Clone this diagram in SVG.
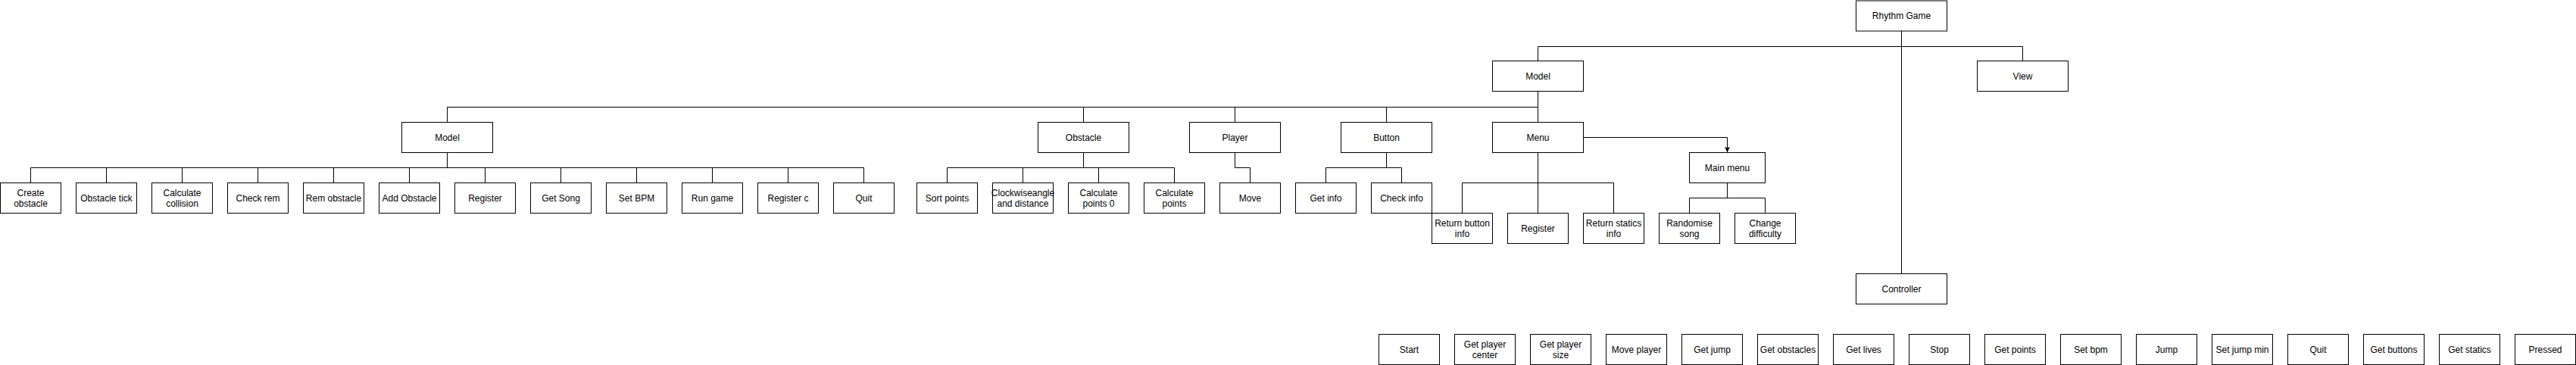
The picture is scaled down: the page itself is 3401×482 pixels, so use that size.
<svg xmlns="http://www.w3.org/2000/svg" width="3401" height="482" viewBox="0 0 3401 482">
<style>
.box{fill:#ffffff;stroke:#000000;stroke-width:1}
.lbl{font-family:"Liberation Sans",Arial,Helvetica,sans-serif;font-size:12px;fill:#000000;text-anchor:middle;dominant-baseline:central}
.edge{fill:none;stroke:#000000;stroke-width:1}
</style>
<defs>
<marker id="arrow" markerUnits="userSpaceOnUse" markerWidth="8" markerHeight="8" viewBox="0 0 8 8" refX="8" refY="4" orient="auto">
<path d="M0,0.5 L8,4 L0,7.5 L2,4 Z" fill="#000000" stroke="none"/>
</marker>
</defs>
<rect width="3401" height="482" fill="#ffffff"/>
<g id="connectors">
<path class="edge" d="M2510.5 41 V61.5"/>
<path class="edge" d="M2030.5 80.5 V61.5 H2670.5 V80.5"/>
<path class="edge" d="M2510.5 61.5 V361.5"/>
<path class="edge" d="M2030.5 120.5 V141.5"/>
<path class="edge" d="M590.5 141.5 H2030.5"/>
<path class="edge" d="M590.5 141.5 V161.5 M1430.5 141.5 V161.5 M1630.5 141.5 V161.5 M1830.5 141.5 V161.5 M2030.5 141.5 V161.5"/>
<path class="edge" d="M590.5 201.5 V221.5 M40.5 221.5 H1140.5"/>
<path class="edge" d="M40.5 221.5 V241.5 M140.5 221.5 V241.5 M240.5 221.5 V241.5 M340.5 221.5 V241.5 M440.5 221.5 V241.5 M540.5 221.5 V241.5 M640.5 221.5 V241.5 M740.5 221.5 V241.5 M840.5 221.5 V241.5 M940.5 221.5 V241.5 M1040.5 221.5 V241.5 M1140.5 221.5 V241.5"/>
<path class="edge" d="M1430.5 201.5 V221.5 M1250.5 221.5 H1550.5 M1250.5 221.5 V241.5 M1350.5 221.5 V241.5 M1450.5 221.5 V241.5 M1550.5 221.5 V241.5"/>
<path class="edge" d="M1630.5 201.5 V221.5 H1650.5 V241.5"/>
<path class="edge" d="M1830.5 201.5 V221.5 M1750.5 221.5 H1850.5 M1750.5 221.5 V241.5 M1850.5 221.5 V241.5"/>
<path class="edge" d="M2030.5 201.5 V241.5 M1930.5 241.5 H2130.5 M1930.5 241.5 V281.5 M2030.5 241.5 V281.5 M2130.5 241.5 V281.5"/>
<path class="edge" d="M2090.5 181.5 H2280.5 V201.5" marker-end="url(#arrow)"/>
<path class="edge" d="M2280.5 241.5 V261.5 M2230.5 261.5 H2330.5 M2230.5 261.5 V281.5 M2330.5 261.5 V281.5"/>
</g>
<g id="rhythm-game"><rect class="box" x="2450.5" y="1" width="120" height="40"/><text class="lbl" x="2510.5" y="21">Rhythm Game</text></g>
<g id="model-top"><rect class="box" x="1970.5" y="80.5" width="120" height="40"/><text class="lbl" x="2030.5" y="101">Model</text></g>
<g id="view"><rect class="box" x="2610.5" y="80.5" width="120" height="40"/><text class="lbl" x="2670.5" y="101">View</text></g>
<g id="controller"><rect class="box" x="2450.5" y="361.5" width="120" height="40"/><text class="lbl" x="2510.5" y="382">Controller</text></g>
<g id="model"><rect class="box" x="530.5" y="161.5" width="120" height="40"/><text class="lbl" x="590.5" y="182">Model</text></g>
<g id="obstacle"><rect class="box" x="1370.5" y="161.5" width="120" height="40"/><text class="lbl" x="1430.5" y="182">Obstacle</text></g>
<g id="player"><rect class="box" x="1570.5" y="161.5" width="120" height="40"/><text class="lbl" x="1630.5" y="182">Player</text></g>
<g id="button"><rect class="box" x="1770.5" y="161.5" width="120" height="40"/><text class="lbl" x="1830.5" y="182">Button</text></g>
<g id="menu"><rect class="box" x="1970.5" y="161.5" width="120" height="40"/><text class="lbl" x="2030.5" y="182">Menu</text></g>
<g id="create-obstacle"><rect class="box" x="0.5" y="241.5" width="80" height="40"/><text class="lbl" x="40.5" y="255">Create</text><text class="lbl" x="40.5" y="269">obstacle</text></g>
<g id="obstacle-tick"><rect class="box" x="100.5" y="241.5" width="80" height="40"/><text class="lbl" x="140.5" y="262">Obstacle tick</text></g>
<g id="calculate-collision"><rect class="box" x="200.5" y="241.5" width="80" height="40"/><text class="lbl" x="240.5" y="255">Calculate</text><text class="lbl" x="240.5" y="269">collision</text></g>
<g id="check-rem"><rect class="box" x="300.5" y="241.5" width="80" height="40"/><text class="lbl" x="340.5" y="262">Check rem</text></g>
<g id="rem-obstacle"><rect class="box" x="400.5" y="241.5" width="80" height="40"/><text class="lbl" x="440.5" y="262">Rem obstacle</text></g>
<g id="add-obstacle"><rect class="box" x="500.5" y="241.5" width="80" height="40"/><text class="lbl" x="540.5" y="262">Add Obstacle</text></g>
<g id="register-model"><rect class="box" x="600.5" y="241.5" width="80" height="40"/><text class="lbl" x="640.5" y="262">Register</text></g>
<g id="get-song"><rect class="box" x="700.5" y="241.5" width="80" height="40"/><text class="lbl" x="740.5" y="262">Get Song</text></g>
<g id="set-bpm-model"><rect class="box" x="800.5" y="241.5" width="80" height="40"/><text class="lbl" x="840.5" y="262">Set BPM</text></g>
<g id="run-game"><rect class="box" x="900.5" y="241.5" width="80" height="40"/><text class="lbl" x="940.5" y="262">Run game</text></g>
<g id="register-c"><rect class="box" x="1000.5" y="241.5" width="80" height="40"/><text class="lbl" x="1040.5" y="262">Register c</text></g>
<g id="quit-model"><rect class="box" x="1100.5" y="241.5" width="80" height="40"/><text class="lbl" x="1140.5" y="262">Quit</text></g>
<g id="sort-points"><rect class="box" x="1210.5" y="241.5" width="80" height="40"/><text class="lbl" x="1250.5" y="262">Sort points</text></g>
<g id="clockwise"><rect class="box" x="1310.5" y="241.5" width="80" height="40"/><text class="lbl" x="1350.5" y="255">Clockwiseangle</text><text class="lbl" x="1350.5" y="269">and distance</text></g>
<g id="calc-points-0"><rect class="box" x="1410.5" y="241.5" width="80" height="40"/><text class="lbl" x="1450.5" y="255">Calculate</text><text class="lbl" x="1450.5" y="269">points 0</text></g>
<g id="calc-points"><rect class="box" x="1510.5" y="241.5" width="80" height="40"/><text class="lbl" x="1550.5" y="255">Calculate</text><text class="lbl" x="1550.5" y="269">points</text></g>
<g id="move"><rect class="box" x="1610.5" y="241.5" width="80" height="40"/><text class="lbl" x="1650.5" y="262">Move</text></g>
<g id="get-info"><rect class="box" x="1710.5" y="241.5" width="80" height="40"/><text class="lbl" x="1750.5" y="262">Get info</text></g>
<g id="check-info"><rect class="box" x="1810.5" y="241.5" width="80" height="40"/><text class="lbl" x="1850.5" y="262">Check info</text></g>
<g id="return-button-info"><rect class="box" x="1890.5" y="281.5" width="80" height="40"/><text class="lbl" x="1930.5" y="295">Return button</text><text class="lbl" x="1930.5" y="309">info</text></g>
<g id="register-menu"><rect class="box" x="1990.5" y="281.5" width="80" height="40"/><text class="lbl" x="2030.5" y="302">Register</text></g>
<g id="return-statics-info"><rect class="box" x="2090.5" y="281.5" width="80" height="40"/><text class="lbl" x="2130.5" y="295">Return statics</text><text class="lbl" x="2130.5" y="309">info</text></g>
<g id="main-menu"><rect class="box" x="2230.5" y="201.5" width="100" height="40"/><text class="lbl" x="2280.5" y="222">Main menu</text></g>
<g id="randomise-song"><rect class="box" x="2190.5" y="281.5" width="80" height="40"/><text class="lbl" x="2230.5" y="295">Randomise</text><text class="lbl" x="2230.5" y="309">song</text></g>
<g id="change-difficulty"><rect class="box" x="2290.5" y="281.5" width="80" height="40"/><text class="lbl" x="2330.5" y="295">Change</text><text class="lbl" x="2330.5" y="309">difficulty</text></g>
<g id="start"><rect class="box" x="1820.5" y="441.5" width="80" height="40"/><text class="lbl" x="1860.5" y="462">Start</text></g>
<g id="get-player-center"><rect class="box" x="1920.5" y="441.5" width="80" height="40"/><text class="lbl" x="1960.5" y="455">Get player</text><text class="lbl" x="1960.5" y="469">center</text></g>
<g id="get-player-size"><rect class="box" x="2020.5" y="441.5" width="80" height="40"/><text class="lbl" x="2060.5" y="455">Get player</text><text class="lbl" x="2060.5" y="469">size</text></g>
<g id="move-player"><rect class="box" x="2120.5" y="441.5" width="80" height="40"/><text class="lbl" x="2160.5" y="462">Move player</text></g>
<g id="get-jump"><rect class="box" x="2220.5" y="441.5" width="80" height="40"/><text class="lbl" x="2260.5" y="462">Get jump</text></g>
<g id="get-obstacles"><rect class="box" x="2320.5" y="441.5" width="80" height="40"/><text class="lbl" x="2360.5" y="462">Get obstacles</text></g>
<g id="get-lives"><rect class="box" x="2420.5" y="441.5" width="80" height="40"/><text class="lbl" x="2460.5" y="462">Get lives</text></g>
<g id="stop"><rect class="box" x="2520.5" y="441.5" width="80" height="40"/><text class="lbl" x="2560.5" y="462">Stop</text></g>
<g id="get-points"><rect class="box" x="2620.5" y="441.5" width="80" height="40"/><text class="lbl" x="2660.5" y="462">Get points</text></g>
<g id="set-bpm"><rect class="box" x="2720.5" y="441.5" width="80" height="40"/><text class="lbl" x="2760.5" y="462">Set bpm</text></g>
<g id="jump"><rect class="box" x="2820.5" y="441.5" width="80" height="40"/><text class="lbl" x="2860.5" y="462">Jump</text></g>
<g id="set-jump-min"><rect class="box" x="2920.5" y="441.5" width="80" height="40"/><text class="lbl" x="2960.5" y="462">Set jump min</text></g>
<g id="quit"><rect class="box" x="3020.5" y="441.5" width="80" height="40"/><text class="lbl" x="3060.5" y="462">Quit</text></g>
<g id="get-buttons"><rect class="box" x="3120.5" y="441.5" width="80" height="40"/><text class="lbl" x="3160.5" y="462">Get buttons</text></g>
<g id="get-statics"><rect class="box" x="3220.5" y="441.5" width="80" height="40"/><text class="lbl" x="3260.5" y="462">Get statics</text></g>
<g id="pressed"><rect class="box" x="3320.5" y="441.5" width="80" height="40"/><text class="lbl" x="3360.5" y="462">Pressed</text></g>
</svg>
